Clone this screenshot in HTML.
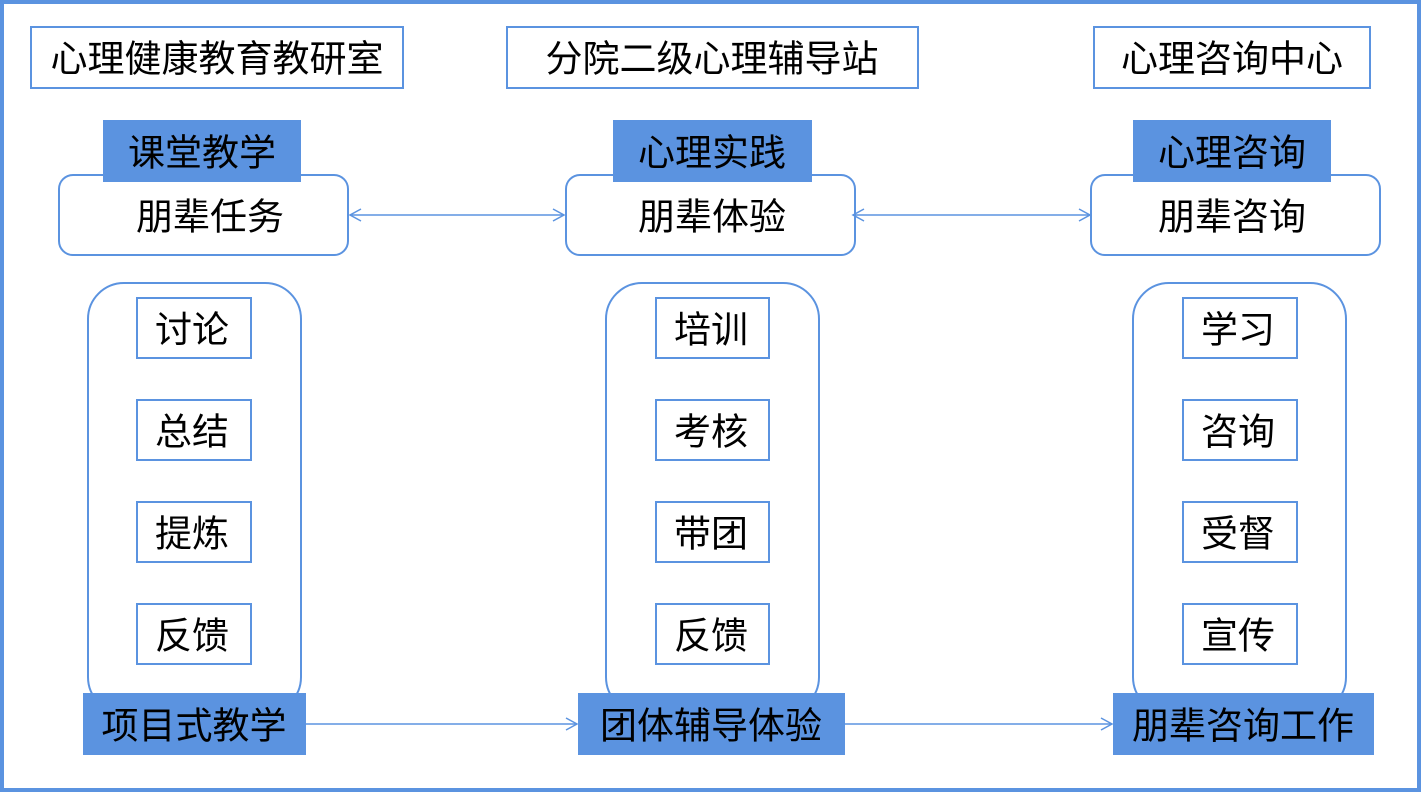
<!DOCTYPE html>
<html><head><meta charset="utf-8"><style>
html,body{margin:0;padding:0;background:#fff}
svg{display:block}
text{font-family:"Liberation Sans","Noto Sans CJK SC",sans-serif;fill:#000;text-anchor:middle;dominant-baseline:central}
</style></head><body>
<svg width="1421" height="792" viewBox="0 0 1421 792">
<defs><marker id="a" markerWidth="14" markerHeight="14" refX="12" refY="7" orient="auto-start-reverse" markerUnits="userSpaceOnUse"><path d="M1,1 L12,7 L1,13" fill="none" stroke="#5b93e0" stroke-width="1.5"/></marker></defs>
<rect x="2" y="2" width="1417" height="788" fill="#fff" stroke="#5b93e0" stroke-width="4"/>
<g fill="#fff" stroke="#5b93e0" stroke-width="2">
<rect x="31" y="27" width="372" height="61"/>
<rect x="507" y="27" width="411" height="61"/>
<rect x="1094" y="27" width="276" height="61"/>
<rect x="59" y="175" width="289" height="80" rx="14"/>
<rect x="566" y="175" width="289" height="80" rx="14"/>
<rect x="1091" y="175" width="289" height="80" rx="14"/>
<rect x="88" y="283" width="213" height="430" rx="36"/>
<rect x="606" y="283" width="213" height="430" rx="36"/>
<rect x="1133" y="283" width="213" height="430" rx="36"/>
</g>
<g fill="#fff" stroke="#5b93e0" stroke-width="2">
<rect x="137" y="298" width="114" height="60"/><rect x="137" y="400" width="114" height="60"/><rect x="137" y="502" width="114" height="60"/><rect x="137" y="604" width="114" height="60"/>
<rect x="656" y="298" width="113" height="60"/><rect x="656" y="400" width="113" height="60"/><rect x="656" y="502" width="113" height="60"/><rect x="656" y="604" width="113" height="60"/>
<rect x="1183" y="298" width="114" height="60"/><rect x="1183" y="400" width="114" height="60"/><rect x="1183" y="502" width="114" height="60"/><rect x="1183" y="604" width="114" height="60"/>
</g>
<g fill="#5b93e0">
<rect x="103" y="120" width="198" height="62"/>
<rect x="613" y="120" width="199" height="62"/>
<rect x="1133" y="120" width="198" height="62"/>
<rect x="83" y="693" width="223" height="62"/>
<rect x="578" y="693" width="267" height="62"/>
<rect x="1113" y="693" width="261" height="62"/>
</g>
<g stroke="#5b93e0" stroke-width="1.5" fill="none">
<line x1="350" y1="215" x2="564" y2="215" marker-start="url(#a)" marker-end="url(#a)"/>
<line x1="853" y1="215" x2="1090" y2="215" marker-start="url(#a)" marker-end="url(#a)"/>
<line x1="306" y1="724" x2="577" y2="724" marker-end="url(#a)"/>
<line x1="845" y1="724" x2="1112" y2="724" marker-end="url(#a)"/>
</g>
<g font-size="37">
<text x="217" y="59">心理健康教育教研室</text>
<text x="712" y="59">分院二级心理辅导站</text>
<text x="1232" y="59">心理咨询中心</text>
<text x="202" y="153">课堂教学</text>
<text x="712" y="153">心理实践</text>
<text x="1232" y="153">心理咨询</text>
<text x="210" y="217">朋辈任务</text>
<text x="712" y="217">朋辈体验</text>
<text x="1232" y="217">朋辈咨询</text>
<text x="194" y="726">项目式教学</text>
<text x="711" y="726">团体辅导体验</text>
<text x="1243" y="726">朋辈咨询工作</text>
<text x="192" y="330">讨论</text><text x="192" y="432">总结</text><text x="192" y="534">提炼</text><text x="192" y="636">反馈</text>
<text x="711" y="330">培训</text><text x="711" y="432">考核</text><text x="711" y="534">带团</text><text x="711" y="636">反馈</text>
<text x="1238" y="330">学习</text><text x="1238" y="432">咨询</text><text x="1238" y="534">受督</text><text x="1238" y="636">宣传</text>
</g>
</svg>
</body></html>
